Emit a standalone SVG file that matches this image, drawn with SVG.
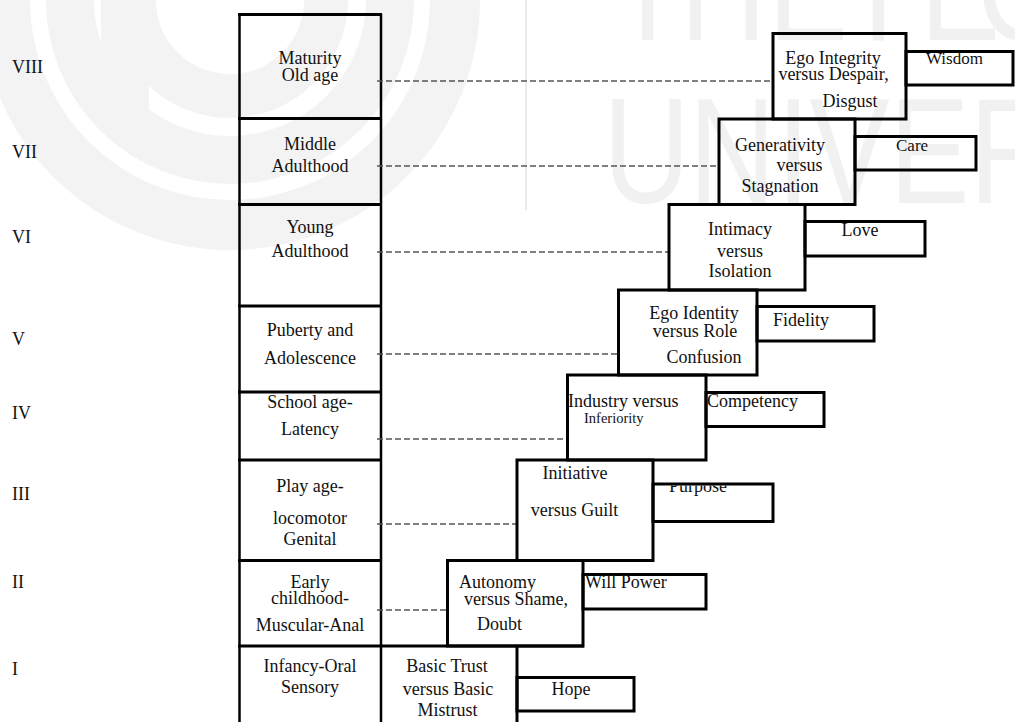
<svg xmlns="http://www.w3.org/2000/svg" width="1015" height="722" viewBox="0 0 1015 722">
<style>
.box{fill:none;stroke:#000;stroke-width:3}
.col{fill:none;stroke:#000;stroke-width:2.5}
.dash{stroke:#555;stroke-width:1.5;stroke-dasharray:6 3;fill:none}
text{font-family:"Liberation Serif","Times New Roman",serif;fill:#111}
.t{font-size:18px}
.s{font-size:17px}
.xs{font-size:14.5px}
.m{text-anchor:middle}
.wm{fill:#f1f1f1;font-family:"Liberation Sans",Arial,sans-serif;font-size:150px}
.ring{fill:none;stroke:#f3f3f3}
</style>
<defs>
<clipPath id="purposeClip"><rect x="653" y="485.5" width="130" height="40"/></clipPath>
</defs>
<rect x="0" y="0" width="1015" height="722" fill="#fff"/>
<g id="watermark">
<circle class="ring" cx="230" cy="0" r="225" stroke-width="50"/>
<circle class="ring" cx="230" cy="0" r="160" stroke-width="48"/>
<circle class="ring" cx="230" cy="0" r="96" stroke-width="44"/>
<rect x="101" y="0" width="48" height="122" fill="#f3f3f3"/>
<line x1="526" y1="0" x2="526" y2="210" stroke="#ebebeb" stroke-width="2"/>
<g transform="scale(0.8 1)">
<text class="wm" x="763.75 850 960 1078.75 1150 1221.25" y="40">THEPEO</text>
<text class="wm" x="754 861 971 1012 1112 1212" y="203">UNIVER</text>
</g>
</g>
<g id="numerals">
<text class="t" x="12" y="73">VIII</text>
<text class="t" x="12" y="158">VII</text>
<text class="t" x="12" y="243">VI</text>
<text class="t" x="12" y="345">V</text>
<text class="t" x="12" y="419">IV</text>
<text class="t" x="12" y="500">III</text>
<text class="t" x="12" y="588">II</text>
<text class="t" x="12" y="675">I</text>
</g>
<g id="age-column">
<line class="col" x1="239.5" y1="14" x2="239.5" y2="722"/>
<line class="col" x1="381" y1="14" x2="381" y2="722"/>
<line class="box" x1="238" y1="14.5" x2="382" y2="14.5"/>
<line class="box" x1="238" y1="118.5" x2="382" y2="118.5"/>
<line class="box" x1="238" y1="204.5" x2="382" y2="204.5"/>
<line class="box" x1="238" y1="306" x2="382" y2="306"/>
<line class="box" x1="238" y1="392" x2="382" y2="392"/>
<line class="box" x1="238" y1="460" x2="382" y2="460"/>
<line class="box" x1="238" y1="560.5" x2="382" y2="560.5"/>
<line class="box" x1="238" y1="646" x2="584" y2="646"/>
</g>
<g id="age-VIII"><text class="t m" x="310" y="64">Maturity</text><text class="t m" x="310" y="81">Old age</text></g>
<g id="age-VII"><text class="t m" x="310" y="150">Middle</text><text class="t m" x="310" y="172">Adulthood</text></g>
<g id="age-VI"><text class="t m" x="310" y="233">Young</text><text class="t m" x="310" y="257">Adulthood</text></g>
<g id="age-V"><text class="t m" x="310" y="336">Puberty and</text><text class="t m" x="310" y="364">Adolescence</text></g>
<g id="age-IV"><text class="t m" x="310" y="408">School age-</text><text class="t m" x="310" y="435">Latency</text></g>
<g id="age-III"><text class="t m" x="310" y="492">Play age-</text><text class="t m" x="310" y="524">locomotor</text><text class="t m" x="310" y="545">Genital</text></g>
<g id="age-II"><text class="t m" x="310" y="588">Early</text><text class="t m" x="310" y="604">childhood-</text><text class="t m" x="310" y="631">Muscular-Anal</text></g>
<g id="age-I"><text class="t m" x="310" y="672">Infancy-Oral</text><text class="t m" x="310" y="693">Sensory</text></g>
<g id="connectors">
<line class="dash" x1="377" y1="81" x2="773" y2="81"/>
<line class="dash" x1="377" y1="166" x2="719" y2="166"/>
<line class="dash" x1="377" y1="252" x2="669" y2="252"/>
<line class="dash" x1="377" y1="354" x2="618" y2="354"/>
<line class="dash" x1="377" y1="439" x2="567" y2="439"/>
<line class="dash" x1="377" y1="524" x2="516" y2="524"/>
<line class="dash" x1="377" y1="610" x2="447" y2="610"/>
</g>
<g id="stage-VIII">
<rect class="box" x="773" y="33.5" width="133" height="85.5"/>
<text class="t m" x="833" y="64">Ego Integrity</text>
<text class="t m" x="833.5" y="80">versus Despair,</text>
<text class="t m" x="850" y="107">Disgust</text>
</g>
<g id="virtue-VIII">
<rect class="box" x="906" y="51.5" width="107" height="33.5"/>
<text class="s" x="926" y="64">Wisdom</text>
</g>
<g id="stage-VII">
<rect class="box" x="719" y="119" width="136" height="85.5"/>
<text class="t m" x="780" y="151">Generativity</text>
<text class="t m" x="799.5" y="171">versus</text>
<text class="t m" x="780" y="192">Stagnation</text>
</g>
<g id="virtue-VII">
<rect class="box" x="855" y="136.5" width="121" height="33.5"/>
<text class="s" x="896" y="151">Care</text>
</g>
<g id="stage-VI">
<rect class="box" x="669" y="204.5" width="136" height="85.5"/>
<text class="t m" x="740" y="235">Intimacy</text>
<text class="t m" x="740" y="257">versus</text>
<text class="t m" x="740" y="277">Isolation</text>
</g>
<g id="virtue-VI">
<rect class="box" x="805" y="221.5" width="120" height="34.5"/>
<text class="t m" x="860" y="236">Love</text>
</g>
<g id="stage-V">
<rect class="box" x="618.5" y="290" width="138.5" height="85"/>
<text class="t m" x="694" y="319">Ego Identity</text>
<text class="t m" x="695" y="337">versus Role</text>
<text class="t m" x="704" y="363">Confusion</text>
</g>
<g id="virtue-V">
<rect class="box" x="757" y="306.5" width="117" height="34.5"/>
<text class="t" x="773" y="326">Fidelity</text>
</g>
<g id="stage-IV">
<rect class="box" x="567.5" y="375" width="138.5" height="85"/>
<text class="t" x="568" y="407">Industry versus</text>
<text class="xs" x="584" y="423">Inferiority</text>
</g>
<g id="virtue-IV">
<rect class="box" x="706" y="392.5" width="118" height="34"/>
<text class="t" x="707" y="407">Competency</text>
</g>
<g id="stage-III">
<rect class="box" x="517" y="460" width="136" height="100.5"/>
<text class="t m" x="575" y="479">Initiative</text>
<text class="t m" x="574.5" y="516">versus Guilt</text>
</g>
<g id="virtue-III">
<text class="t" x="669" y="492" clip-path="url(#purposeClip)">Purpose</text>
<rect class="box" x="653" y="484" width="120" height="37.5"/>
</g>
<g id="stage-II">
<rect class="box" x="447.5" y="560.5" width="135.5" height="85.5"/>
<text class="t" x="459" y="588">Autonomy</text>
<text class="t" x="464" y="605">versus Shame,</text>
<text class="t" x="477" y="630">Doubt</text>
</g>
<g id="virtue-II">
<rect class="box" x="583" y="574.5" width="123" height="34.5"/>
<text class="t" x="585" y="588">Will Power</text>
</g>
<g id="stage-I">
<line class="box" x1="517" y1="646" x2="517" y2="722"/>
<text class="t m" x="447" y="672">Basic Trust</text>
<text class="t m" x="448" y="695">versus Basic</text>
<text class="t m" x="447.5" y="716">Mistrust</text>
</g>
<g id="virtue-I">
<rect class="box" x="517" y="677.5" width="117" height="33.5"/>
<text class="t m" x="571" y="695">Hope</text>
</g>
</svg>
